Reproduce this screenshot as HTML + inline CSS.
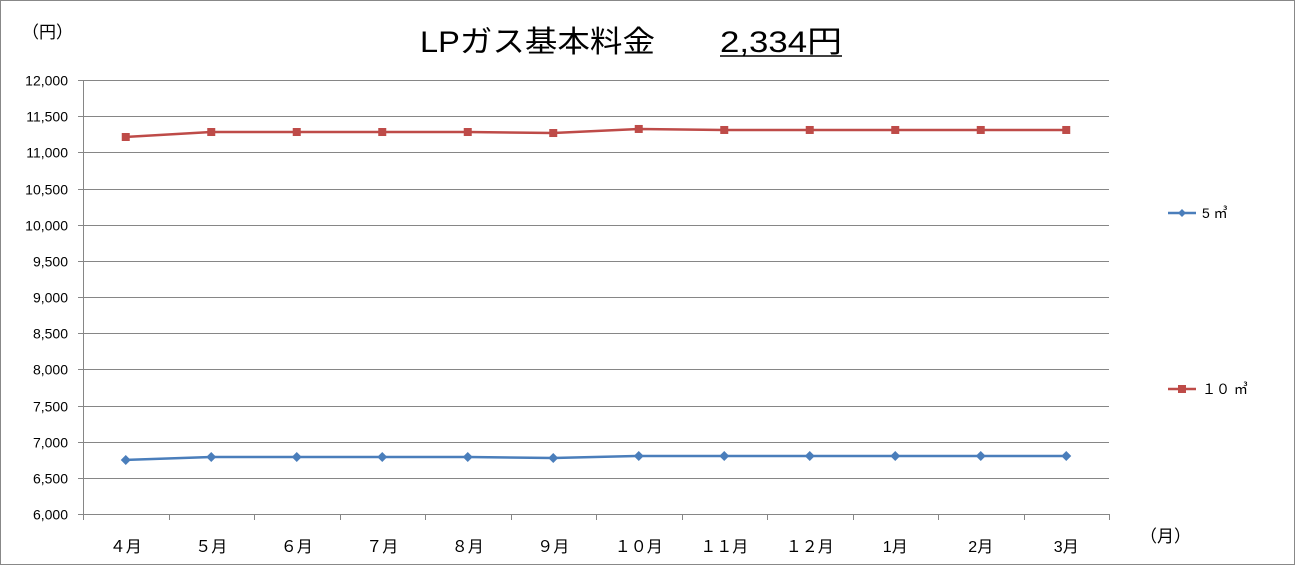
<!DOCTYPE html>
<html><head><meta charset="utf-8"><style>
body{margin:0;background:#fff;}
svg{display:block;font-family:"Liberation Sans","Noto Sans CJK JP",sans-serif;}
</style></head><body>
<svg id="chart" width="1295" height="565">
<rect x="0.5" y="0.5" width="1294" height="564" fill="#fff" stroke="#888"/>
<text x="420" y="52" font-size="30" fill="#000" textLength="235" lengthAdjust="spacingAndGlyphs">LPガス基本料金</text>
<text x="720" y="52" font-size="30" fill="#000" textLength="122" lengthAdjust="spacingAndGlyphs">2,334円</text>
<line x1="720" y1="56" x2="842" y2="56" stroke="#000" stroke-width="1.5"/>
<text x="22" y="38" font-size="17">（円）</text>
<text x="1140" y="542" font-size="17">（月）</text>
<g id="grid"></g><g id="axes"></g><g id="series"></g>
<g>
<line x1="1168" y1="213" x2="1196" y2="213" stroke="#4a7ebb" stroke-width="2.5"/>
<path d="M1182 209 L1186 213 L1182 217 L1178 213Z" fill="#4a7ebb"/>
<text x="1202" y="218" font-size="14">5 ㎥</text>
<line x1="1168" y1="389" x2="1196" y2="389" stroke="#be4b48" stroke-width="2.5"/>
<rect x="1178" y="385" width="8" height="8" fill="#be4b48"/>
<text x="1202" y="394" font-size="14">１０ ㎥</text>
</g>
</svg>
<script>
const categories=["４月","５月","６月","７月","８月","９月","１０月","１１月","１２月","1月","2月","3月"];
const series5=[6747,6788,6788,6788,6788,6774,6802,6802,6802,6802,6802,6802];
const series10=[11212,11281,11281,11281,11281,11267,11323,11309,11309,11309,11309,11309];
const yTicks=[6000,6500,7000,7500,8000,8500,9000,9500,10000,10500,11000,11500,12000];
const NS="http://www.w3.org/2000/svg";
const L=83,R=1109,T=80,B=514,yMin=6000,yMax=12000;
const bw=(R-L)/categories.length;
const xs=i=>L+(i+0.5)*bw;
const ys=v=>B-(v-yMin)/(yMax-yMin)*(B-T);
function mk(tag,attrs,parent){const e=document.createElementNS(NS,tag);for(const k in attrs)e.setAttribute(k,attrs[k]);parent.appendChild(e);return e;}
const grid=document.getElementById('grid'),axes=document.getElementById('axes'),ser=document.getElementById('series');
yTicks.forEach(v=>{
 const y=Math.round(ys(v))+0.5;
 const g=mk('line',{x1:L-5,x2:R,y1:y,y2:y,stroke:'#868686','stroke-width':1},grid);
 
 
 const t=mk('text',{x:L-15,y:y+5,'font-size':14,'text-anchor':'end'},axes);
 t.textContent=v.toLocaleString('en-US');
 
 
});
const ax=mk('line',{x1:L+0.5,x2:L+0.5,y1:T,y2:B,stroke:'#868686'},axes);


for(let i=0;i<=categories.length;i++){
 const x=Math.round(L+i*bw)+0.5;
 const tk=mk('line',{x1:x,x2:x,y1:B,y2:B+6,stroke:'#868686'},axes);
 
 
}
categories.forEach((c,i)=>{
 const t=mk('text',{x:xs(i),y:552,'font-size':16,'text-anchor':'middle'},axes);
 t.textContent=c;
 
 
});
function draw(vals,color,shape,name){
 const p=mk('polyline',{points:vals.map((v,i)=>xs(i)+','+ys(v)).join(' '),fill:'none',stroke:color,'stroke-width':2.5},ser);
 
 
 vals.forEach((v,i)=>{
  const x=xs(i),y=ys(v);let m;
  if(shape==='d')m=mk('path',{d:`M${x} ${y-5}L${x+5} ${y}L${x} ${y+5}L${x-5} ${y}Z`,fill:color},ser);
  else m=mk('rect',{x:x-4,y:y-4,width:8,height:8,fill:color},ser);
  
  
 });
}
draw(series5,'#4a7ebb','d','series-5m3');
draw(series10,'#be4b48','s','series-10m3');
</script>
</body></html>
